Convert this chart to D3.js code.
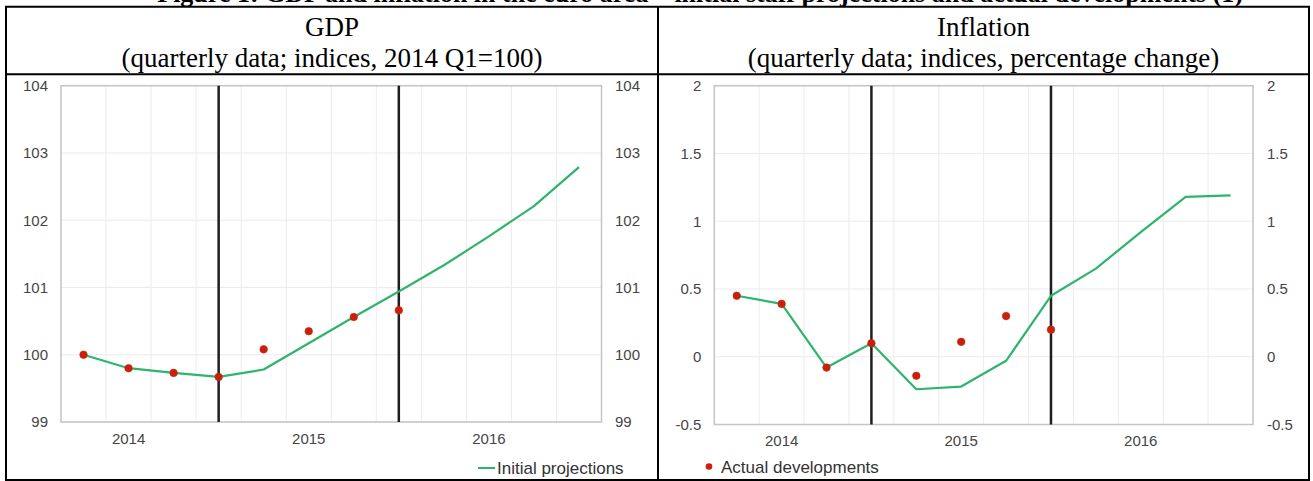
<!DOCTYPE html>
<html>
<head>
<meta charset="utf-8">
<script src="https://cdn.jsdelivr.net/npm/d3@7"></script>
<style>
  html, body { margin: 0; padding: 0; background: #ffffff; }
  svg { display: block; }
</style>
</head>
<body>
<svg id="chart" width="1313" height="481"></svg>
<script>
// ---------------- DATA ----------------
const quarters = ["2014Q1","2014Q2","2014Q3","2014Q4","2015Q1","2015Q2","2015Q3","2015Q4","2016Q1","2016Q2","2016Q3","2016Q4"];
const actualQuarters = ["2014Q1","2014Q2","2014Q3","2014Q4","2015Q1","2015Q2","2015Q3","2015Q4"];
const yearTickQuarters = ["2014Q2","2015Q2","2016Q2"];
const yearTickLabels = ["2014","2015","2016"];
const markerQuarters = ["2014Q4","2015Q4"];

const gdpProjections = [100.0, 99.80, 99.73, 99.67, 99.78, 100.17, 100.56, 100.94, 101.33, 101.76, 102.21, 102.79];
const gdpActual = [100.0, 99.80, 99.73, 99.67, 100.08, 100.35, 100.56, 100.66];
const gdpTicks = [99, 100, 101, 102, 103, 104];

const inflProjections = [0.45, 0.39, -0.08, 0.10, -0.24, -0.22, -0.03, 0.45, 0.65, 0.92, 1.18, 1.19];
const inflActual = [0.45, 0.39, -0.08, 0.10, -0.14, 0.11, 0.30, 0.20];
const inflTicks = [-0.5, 0, 0.5, 1, 1.5, 2];

const figureTitle = "Figure 1: GDP and inflation in the euro area – initial staff projections and actual developments (1)";
const panelTitles = ["GDP", "Inflation"];
const panelSubtitles = ["(quarterly data; indices, 2014 Q1=100)", "(quarterly data; indices, percentage change)"];
const legendLine = "Initial projections";
const legendDot = "Actual developments";

// ---------------- STYLE ----------------
const GREEN = "#2fb46c";
const RED = "#d01c0c";
const AXIS_TXT = "#454545";
const GRID = "#ececec";
const FRAME = "#c4c4c4";
const SANS = "'Liberation Sans', Arial, sans-serif";
const SERIF = "'Liberation Serif', 'Times New Roman', serif";

const svg = d3.select("#chart");

// ---------------- TABLE / HEADER ----------------
const T = { left: 6, mid: 658, right: 1309, top: 6.7, head: 74.3, bottom: 480 };

svg.append("text")
  .attr("x", 1243).attr("y", 1.5)
  .attr("text-anchor", "end")
  .attr("font-family", SERIF).attr("font-weight", "bold").attr("font-size", 26)
  .attr("fill", "#000")
  .text(figureTitle);

const cells = [[T.left, T.mid], [T.mid, T.right]];
cells.forEach((c, i) => {
  const cx = (c[0] + c[1]) / 2;
  svg.append("text").attr("x", cx).attr("y", 36)
    .attr("text-anchor", "middle").attr("font-family", SERIF).attr("font-size", 27)
    .attr("fill", "#000").text(panelTitles[i]);
  svg.append("text").attr("x", cx).attr("y", 67)
    .attr("text-anchor", "middle").attr("font-family", SERIF).attr("font-size", 27)
    .attr("fill", "#000").text(panelSubtitles[i]);
});

// ---------------- CHART PANELS ----------------
function drawPanel(cfg) {
  const clipId = "clip" + cfg.id;
  svg.append("clipPath").attr("id", clipId)
    .append("rect").attr("x", cfg.clip[0]).attr("y", T.head + 1)
    .attr("width", cfg.clip[1] - cfg.clip[0]).attr("height", T.bottom - T.head - 2);
  const g = svg.append("g").attr("clip-path", `url(#${clipId})`);

  const x = d3.scaleBand().domain(quarters).range([cfg.x0, cfg.x1]).padding(0);
  const y = d3.scaleLinear().domain(cfg.domain).range([cfg.y1, cfg.y0]);
  const cxq = q => x(q) + x.bandwidth() / 2;

  // grid: horizontal
  g.append("g").selectAll("line").data(cfg.ticks).join("line")
    .attr("x1", cfg.x0).attr("x2", cfg.x1)
    .attr("y1", d => y(d)).attr("y2", d => y(d))
    .attr("stroke", GRID).attr("stroke-width", 1);
  // grid: vertical at quarter boundaries
  g.append("g").selectAll("line").data(quarters.slice(1)).join("line")
    .attr("x1", d => x(d)).attr("x2", d => x(d))
    .attr("y1", cfg.y0).attr("y2", cfg.y1)
    .attr("stroke", GRID).attr("stroke-width", 1);
  // frame
  g.append("rect").attr("x", cfg.x0).attr("y", cfg.y0)
    .attr("width", cfg.x1 - cfg.x0).attr("height", cfg.y1 - cfg.y0)
    .attr("fill", "none").attr("stroke", FRAME).attr("stroke-width", 1.5);

  // y axes (left and right)
  const fmt = d => String(d);
  const yl = g.append("g").attr("transform", `translate(${cfg.x0 - 13},0)`)
    .call(d3.axisLeft(y).tickValues(cfg.ticks).tickFormat(fmt).tickSize(0).tickPadding(0));
  const yr = g.append("g").attr("transform", `translate(${cfg.rightLabelX},0)`)
    .call(d3.axisRight(y).tickValues(cfg.ticks).tickFormat(fmt).tickSize(0).tickPadding(0));
  // x axis
  const xa = g.append("g").attr("transform", `translate(0,${cfg.y1 + 11})`)
    .call(d3.axisBottom(x).tickValues(yearTickQuarters)
      .tickFormat(q => yearTickLabels[yearTickQuarters.indexOf(q)]).tickSize(0).tickPadding(0));
  [yl, yr, xa].forEach(a => {
    a.select(".domain").remove();
    a.selectAll("text").attr("font-family", SANS).attr("font-size", 15).attr("fill", AXIS_TXT);
  });
  xa.selectAll("text").attr("dy", "0.71em");

  // projection markers (vertical black lines)
  g.append("g").selectAll("line").data(markerQuarters).join("line")
    .attr("x1", d => cxq(d)).attr("x2", d => cxq(d))
    .attr("y1", cfg.y0).attr("y2", cfg.y1)
    .attr("stroke", "#1e1e1e").attr("stroke-width", 2.5);

  // projections line
  const line = d3.line().x((d, i) => cxq(quarters[i])).y(d => y(d));
  g.append("path").datum(cfg.proj).attr("d", line)
    .attr("fill", "none").attr("stroke", GREEN).attr("stroke-width", 2.2)
    .attr("stroke-linejoin", "round");

  // actual dots
  g.append("g").selectAll("circle").data(cfg.actual).join("circle")
    .attr("cx", (d, i) => cxq(actualQuarters[i])).attr("cy", d => y(d))
    .attr("r", 3.8).attr("fill", RED).attr("stroke", "#b0380a").attr("stroke-width", 0.6);

  // legend
  if (cfg.legend === "line") {
    g.append("line").attr("x1", cfg.legendX).attr("x2", cfg.legendX + 17)
      .attr("y1", 468).attr("y2", 468).attr("stroke", GREEN).attr("stroke-width", 2);
    g.append("text").attr("x", cfg.legendX + 19).attr("y", 474)
      .attr("font-family", SANS).attr("font-size", 17).attr("fill", "#333").text(legendLine);
  } else {
    g.append("circle").attr("cx", cfg.legendX).attr("cy", 466.5).attr("r", 3.3).attr("fill", RED);
    g.append("text").attr("x", cfg.legendX + 12).attr("y", 472.5)
      .attr("font-family", SANS).attr("font-size", 17).attr("fill", "#333").text(legendDot);
  }
}

drawPanel({ id: "gdp", x0: 61, x1: 601.5, y0: 85.7, y1: 422, domain: [99, 104], ticks: gdpTicks,
  proj: gdpProjections, actual: gdpActual, rightLabelX: 615, clip: [T.left + 1, 641.5],
  legend: "line", legendX: 478 });
drawPanel({ id: "infl", x0: 714.3, x1: 1253, y0: 85.7, y1: 424.5, domain: [-0.5, 2], ticks: inflTicks,
  proj: inflProjections, actual: inflActual, rightLabelX: 1267, clip: [T.mid + 1, 1294.5],
  legend: "dot", legendX: 709 });

// table borders (drawn last)
const border = (x1, y1, x2, y2) => svg.append("line")
  .attr("x1", x1).attr("y1", y1).attr("x2", x2).attr("y2", y2)
  .attr("stroke", "#000").attr("stroke-width", 2);
border(T.left - 1, T.top, T.right + 1, T.top);
border(T.left - 1, T.head, T.right + 1, T.head);
border(T.left - 1, T.bottom, T.right + 1, T.bottom);
border(T.left, T.top, T.left, T.bottom);
border(T.mid, T.top, T.mid, T.bottom);
border(T.right, T.top, T.right, T.bottom);
</script>
</body>
</html>
